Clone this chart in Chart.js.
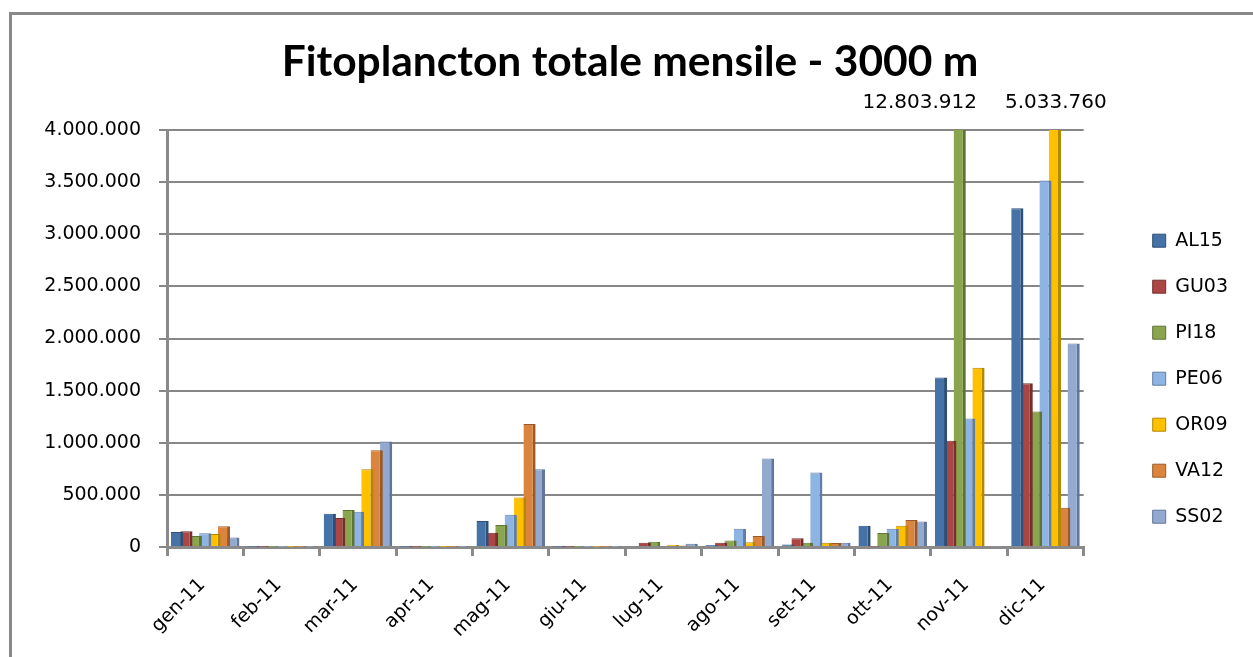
<!DOCTYPE html>
<html>
<head>
<meta charset="utf-8">
<script src="https://cdn.jsdelivr.net/npm/chart.js@4.4.1/dist/chart.umd.min.js"></script>
<style>
  html, body { margin: 0; padding: 0; background: #fff; }
  #wrap { position: relative; width: 1253px; height: 657px; overflow: hidden; }
  canvas { display: block; }
</style>
</head>
<body>
<div id="wrap"><canvas id="c" width="1253" height="657"></canvas></div>
<script>
// ---- data ----
const categories = ['gen-11','feb-11','mar-11','apr-11','mag-11','giu-11','lug-11','ago-11','set-11','ott-11','nov-11','dic-11'];
const seriesNames = ['AL15','GU03','PI18','PE06','OR09','VA12','SS02'];
const AL15 = [145000, 3000, 320000, 3000, 250000, 3000, 10000, 20000, 25000, 205000, 1625000, 3250000];
const GU03 = [150000, 3000, 277000, 3000, 136000, 3000, 40000, 40000, 85000, 5000, 1020000, 1570000];
const PI18 = [105000, 3000, 355000, 3000, 210000, 3000, 50000, 62000, 40000, 135000, 12803912, 1300000];
const PE06 = [132000, 3000, 337000, 3000, 310000, 3000, 10000, 175000, 715000, 175000, 1233000, 3515000];
const OR09 = [125000, 3000, 745000, 3000, 475000, 3000, 20000, 45000, 40000, 205000, 1720000, 5033760];
const VA12 = [200000, 3000, 928000, 3000, 1180000, 3000, 15000, 105000, 38000, 260000, 10000, 376000];
const SS02 = [90000, 3000, 1013000, 3000, 746000, 3000, 30000, 850000, 40000, 245000, 5000, 1953000];
const yMax = 4000000;
const yStep = 500000;

const seriesValues = [AL15, GU03, PI18, PE06, OR09, VA12, SS02];
const fillColors = ['#4572A7','#AA4643','#89A54E','#8EB4E3','#FFC000','#DB843D','#93A9CF'];
const edgeColors = ['#2E4F78','#762F2D','#5E7334','#5F7EA6','#B38700','#9A5A28','#60769B'];

function fmtIt(v) {
  const s = Math.round(v).toString();
  return s.replace(/\B(?=(\d{3})+(?!\d))/g, '.');
}

const datasets = seriesNames.map((name, i) => ({
  label: name,
  data: seriesValues[i],
  backgroundColor: fillColors[i],
  borderColor: edgeColors[i],
  borderWidth: { top: 1, right: 3, left: 0, bottom: 0 },
  borderSkipped: 'bottom',
  categoryPercentage: 0.86,
  barPercentage: 1.3
}));

// outer frame
const framePlugin = {
  id: 'frame',
  beforeDraw(chart) {
    const ctx = chart.ctx;
    ctx.save();
    ctx.fillStyle = '#fff';
    ctx.fillRect(0, 0, chart.width, chart.height);
    ctx.strokeStyle = '#898989';
    ctx.lineWidth = 3;
    ctx.beginPath();
    ctx.moveTo(10.5, chart.height + 5);
    ctx.lineTo(10.5, 13.5);
    ctx.lineTo(chart.width + 5, 13.5);
    ctx.stroke();
    ctx.restore();
  }
};

// labels for bars exceeding the axis maximum
const overflowPlugin = {
  id: 'overflow',
  afterDatasetsDraw(chart, args, opts) {
    const ctx = chart.ctx;
    const yScale = chart.scales.y;
    ctx.save();
    ctx.font = '20px "DejaVu Sans"';
    ctx.fillStyle = '#000';
    ctx.textAlign = 'center';
    ctx.textBaseline = 'middle';
    chart.data.datasets.forEach((ds, di) => {
      const meta = chart.getDatasetMeta(di);
      ds.data.forEach((v, j) => {
        if (v > yScale.max) {
          const bar = meta.data[j];
          const dx = (opts.dx && opts.dx[categories[j]]) || 0;
          ctx.fillText(fmtIt(v), bar.x + dx, yScale.top - 27);
        }
      });
    });
    ctx.restore();
  }
};

new Chart(document.getElementById('c'), {
  type: 'bar',
  data: { labels: categories, datasets },
  plugins: [framePlugin, overflowPlugin],
  options: {
    responsive: false,
    animation: false,
    devicePixelRatio: 1,
    layout: { padding: { left: 22, right: 15, top: 0, bottom: 0 } },
    plugins: {
      overflow: { dx: { 'nov-11': -40, 'dic-11': 1 } },
      tooltip: { enabled: false },
      title: {
        display: true,
        text: 'Fitoplancton totale mensile - 3000 m',
        color: '#000',
        font: { family: 'Lato', size: 42.5, weight: 'bold' },
        padding: { top: 37, bottom: 42 }
      },
      legend: {
        position: 'right',
        align: 'center',
        title: { display: true, text: '', padding: { top: 43, bottom: 43 } },
        labels: {
          boxWidth: 13,
          boxHeight: 13,
          padding: 27,
          color: '#000',
          font: { family: 'DejaVu Sans', size: 19 }
        }
      }
    },
    scales: {
      x: {
        offset: true,
        grid: { display: true, drawOnChartArea: false, drawTicks: true, tickLength: 9, color: '#8a8a8a', lineWidth: 3 },
        border: { display: true, color: '#8a8a8a', width: 3 },
        ticks: { color: '#000', font: { family: 'DejaVu Sans', size: 19 }, maxRotation: 45, minRotation: 45, padding: 18, labelOffset: -3 },
        afterFit(scale) { scale.height = 110; }
      },
      y: {
        min: 0,
        max: yMax,
        ticks: { stepSize: yStep, color: '#000', font: { family: 'DejaVu Sans', size: 19 }, padding: 18, callback: (v) => fmtIt(v) },
        grid: { color: '#878787', lineWidth: 2, drawTicks: true, tickLength: 8 },
        border: { display: true, color: '#8a8a8a', width: 3 },
        afterFit(scale) { scale.width = 145; }
      },
      spacer: {
        position: 'right',
        display: true,
        min: 0, max: 1,
        ticks: { display: false },
        grid: { display: false, drawTicks: false },
        border: { display: false },
        afterFit(scale) { scale.width = 42; }
      }
    }
  }
});
</script>
</body>
</html>
